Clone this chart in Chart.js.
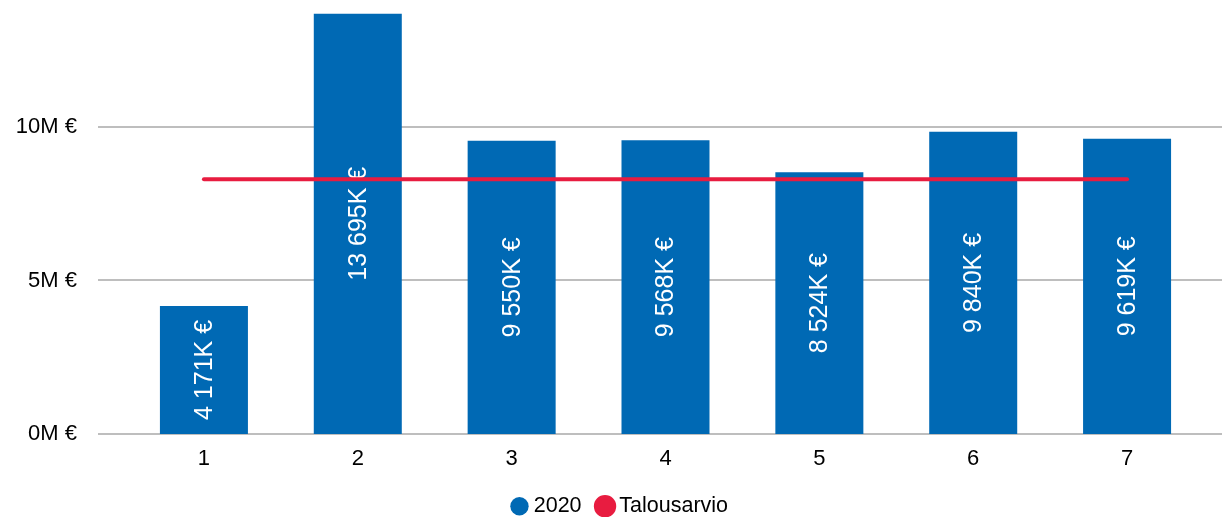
<!DOCTYPE html>
<html>
<head>
<meta charset="utf-8">
<script src="https://cdn.jsdelivr.net/npm/chart.js@4/dist/chart.umd.min.js"></script>
<style>
  html, body { margin: 0; padding: 0; background: #fff; }
  #wrap { width: 1222px; height: 517px; position: relative; }
</style>
</head>
<body>
<div id="wrap"><canvas id="c"></canvas></div>
<script>
const categories = ['1', '2', '3', '4', '5', '6', '7'];
const actual2020 = [4171000, 13695000, 9550000, 9568000, 8524000, 9840000, 9619000];
const budget = [8300000, 8300000, 8300000, 8300000, 8300000, 8300000, 8300000];
const yTickValues = [0, 5000000, 10000000];
const seriesNames = ['2020', 'Talousarvio'];

const FONT = "'Liberation Sans', Arial, sans-serif";
const BLUE = '#0069B4';
const RED = '#E81C40';

function fmtK(v) {
  const k = Math.round(v / 1000);
  return String(k).replace(/\B(?=(\d{3})+(?!\d))/g, ' ') + 'K €';
}

const gridPlugin = {
  id: 'fullGrid',
  beforeDatasetsDraw(chart) {
    const y = chart.scales.y;
    const ctx = chart.ctx;
    ctx.save();
    ctx.strokeStyle = '#BEBEBE';
    ctx.lineWidth = 2;
    y.ticks.forEach(t => {
      const py = Math.round(y.getPixelForValue(t.value));
      ctx.beginPath();
      ctx.moveTo(98, py);
      ctx.lineTo(chart.width, py);
      ctx.stroke();
    });
    ctx.restore();
  }
};

const barLabelPlugin = {
  id: 'barLabels',
  afterDatasetDraw(chart, args) {
    if (args.index !== 0) return;
    const ctx = chart.ctx;
    const meta = chart.getDatasetMeta(0);
    ctx.save();
    ctx.fillStyle = '#FFFFFF';
    ctx.font = '25px ' + FONT;
    ctx.textAlign = 'center';
    ctx.textBaseline = 'middle';
    meta.data.forEach((bar, i) => {
      const cx = bar.x;
      const cy = (bar.y + bar.base) / 2;
      ctx.save();
      ctx.translate(cx, cy);
      ctx.rotate(-Math.PI / 2);
      ctx.fillText(fmtK(actual2020[i]), 0, 1);
      ctx.restore();
    });
    ctx.restore();
  }
};

const legendShiftPlugin = {
  id: 'legendShift',
  afterLayout(chart) {
    if (chart.legend) {
      chart.legend.left += 20;
      chart.legend.right += 20;
    }
  }
};

new Chart(document.getElementById('c'), {
  data: {
    labels: categories,
    datasets: [
      {
        type: 'bar',
        label: seriesNames[0],
        data: actual2020,
        backgroundColor: BLUE,
        borderWidth: 0,
        barPercentage: 0.572,
        categoryPercentage: 1.0,
        order: 1
      },
      {
        type: 'line',
        label: seriesNames[1],
        data: budget,
        borderColor: RED,
        backgroundColor: RED,
        borderWidth: 4,
        borderCapStyle: 'round',
        pointRadius: 0,
        pointHoverRadius: 0,
        tension: 0,
        order: 0
      }
    ]
  },
  options: {
    responsive: true,
    maintainAspectRatio: false,
    animation: false,
    layout: { padding: { left: 0, right: 18, top: 13.5, bottom: -10 } },
    plugins: {
      tooltip: { enabled: false },
      legend: {
        position: 'bottom',
        labels: {
          usePointStyle: true,
          pointStyle: 'circle',
          boxWidth: 7,
          boxHeight: 13,
          padding: 20,
          color: '#000',
          font: { family: FONT, size: 21.5 },
          sort: (a, b) => a.datasetIndex - b.datasetIndex
        }
      }
    },
    scales: {
      x: {
        grid: { display: false, drawTicks: false },
        border: { display: false },
        ticks: { color: '#000', font: { family: FONT, size: 22 }, padding: 12 },
        afterFit(scale) { scale.height = 41.5; }
      },
      y: {
        min: 0,
        max: 13695000,
        grid: { display: false, drawTicks: false },
        border: { display: false },
        ticks: {
          color: '#000',
          font: { family: FONT, size: 22 },
          padding: 50,
          callback: (v) => (v / 1000000) + 'M €'
        },
        afterBuildTicks(scale) {
          scale.ticks = yTickValues.map(v => ({ value: v }));
        },
        afterFit(scale) {
          scale.width = 127;
          scale.paddingTop = 0;
          scale.paddingBottom = 0;
        }
      }
    }
  },
  plugins: [gridPlugin, barLabelPlugin, legendShiftPlugin]
});
</script>
</body>
</html>
